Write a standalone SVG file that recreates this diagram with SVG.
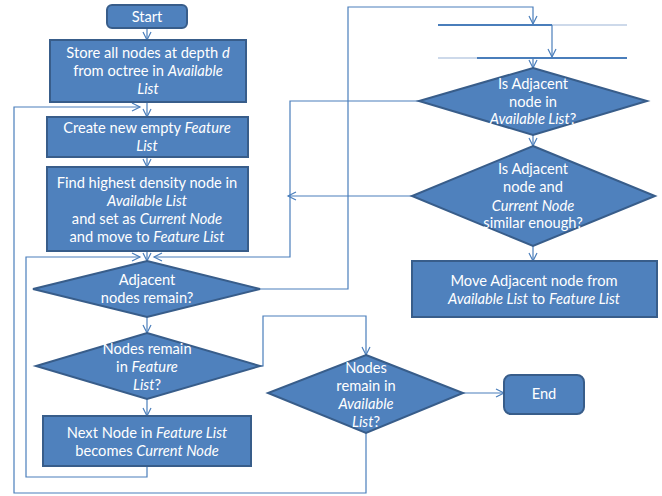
<svg xmlns="http://www.w3.org/2000/svg" width="662" height="496" viewBox="0 0 662 496">
<style>
.n{fill:#4F81BD;stroke:#385D8A;stroke-width:2}
.t{font-family:Lato,"Open Sans","Liberation Sans",sans-serif;font-size:14.67px;fill:#FFFFFF;text-anchor:middle}
.i{font-style:italic}
.c{fill:none;stroke:#4A7EBB;stroke-width:1.2}
.a{marker-end:url(#ah)}
</style>
<defs>
<marker id="ah" markerUnits="userSpaceOnUse" markerWidth="10" markerHeight="10" refX="8" refY="4" orient="auto" overflow="visible">
<path d="M0,0 L8,4 L0,8" fill="none" stroke="#4A7EBB" stroke-width="1.2"/>
</marker>
</defs>
<rect width="662" height="496" fill="#FFFFFF"/>
<g id="connectors">
<path class="c a" d="M147,28 V40"/>
<path class="c a" d="M147,102 V117"/>
<path class="c a" d="M147,157 V167"/>
<path class="c a" d="M147,251 V261"/>
<path class="c a" d="M366,433 V493 H14 V107 H140"/>
<path class="c a" d="M147,466 V477 H26 V257 H140"/>
<path class="c a" d="M419,101 H290 V257 H154"/>
<path class="c a" d="M412,196 H288"/>
<path class="c a" d="M260,289 H348 V7 H533 V24"/>
<path class="c" d="M438,25 H627" style="stroke:#9BB4D6"/>
<path class="c" d="M438,25 H552" style="stroke-width:2"/>
<path class="c a" d="M552,25 V57"/>
<path class="c" d="M438,58 H627" style="stroke:#9BB4D6"/>
<path class="c" d="M477,58 H627" style="stroke-width:2"/>
<path class="c a" d="M533,58 V68"/>
<path class="c a" d="M533,135 V146"/>
<path class="c a" d="M533,246 V261"/>
<path class="c a" d="M147,317 V333"/>
<path class="c a" d="M147,399 V416"/>
<path class="c a" d="M260,366 H263 V316 H366 V355"/>
<path class="c a" d="M463,393 H504"/>
</g>
<g id="start">
<rect class="n" x="107" y="5" width="80" height="23" rx="5"/>
<text class="t" x="147" y="22">Start</text>
</g>
<g id="store">
<rect class="n" x="50" y="40" width="196" height="62"/>
<text class="t" x="148" y="58">Store all nodes at depth <tspan class="i">d</tspan></text>
<text class="t" x="148" y="76">from octree in <tspan class="i">Available</tspan></text>
<text class="t i" x="148" y="94">List</text>
</g>
<g id="create">
<rect class="n" x="47" y="117" width="201" height="40"/>
<text class="t" x="147" y="133">Create new empty <tspan class="i">Feature</tspan></text>
<text class="t i" x="147" y="151">List</text>
</g>
<g id="find">
<rect class="n" x="47" y="167" width="201" height="84"/>
<text class="t" x="147" y="188">Find highest density node in</text>
<text class="t i" x="147" y="206">Available List</text>
<text class="t" x="147" y="224">and set as <tspan class="i">Current Node</tspan></text>
<text class="t" x="147" y="242">and move to <tspan class="i">Feature List</tspan></text>
</g>
<g id="adjacent">
<polygon class="n" points="147,261 260,289 147,317 33,289"/>
<text class="t" x="147" y="285">Adjacent</text>
<text class="t" x="147" y="303">nodes remain?</text>
</g>
<g id="remainFeature">
<polygon class="n" points="147,333 260,366 147,399 36,366"/>
<text class="t" x="147" y="354">Nodes remain</text>
<text class="t" x="147" y="372">in <tspan class="i">Feature</tspan></text>
<text class="t" x="147" y="390"><tspan class="i">List</tspan>?</text>
</g>
<g id="next">
<rect class="n" x="43" y="416" width="208" height="50"/>
<text class="t" x="147" y="438">Next Node in <tspan class="i">Feature List</tspan></text>
<text class="t" x="147" y="456">becomes <tspan class="i">Current Node</tspan></text>
</g>
<g id="inAvailable">
<polygon class="n" points="533,68 647,101 533,135 419,101"/>
<text class="t" x="533" y="89">Is Adjacent</text>
<text class="t" x="533" y="107">node in</text>
<text class="t" x="533" y="124"><tspan class="i">Available List</tspan>?</text>
</g>
<g id="similar">
<polygon class="n" points="533,146 655,196 533,246 412,196"/>
<text class="t" x="533" y="174">Is Adjacent</text>
<text class="t" x="533" y="192">node and</text>
<text class="t i" x="533" y="211">Current Node</text>
<text class="t" x="533" y="228">similar enough?</text>
</g>
<g id="move">
<rect class="n" x="412" y="261" width="245" height="56"/>
<text class="t" x="534" y="286">Move Adjacent node from</text>
<text class="t" x="534" y="304"><tspan class="i">Available List</tspan> to <tspan class="i">Feature List</tspan></text>
</g>
<g id="remainAvailable">
<polygon class="n" points="366,355 463,393 366,433 268,393"/>
<text class="t" x="366" y="373">Nodes</text>
<text class="t" x="366" y="391">remain in</text>
<text class="t i" x="366" y="409">Available</text>
<text class="t" x="366" y="427"><tspan class="i">List</tspan>?</text>
</g>
<g id="end">
<rect class="n" x="504" y="375" width="80" height="39" rx="7"/>
<text class="t" x="544" y="399">End</text>
</g>
</svg>
